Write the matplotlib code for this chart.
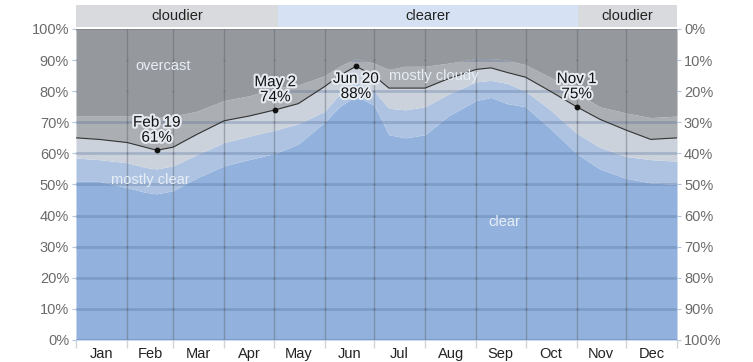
import matplotlib.pyplot as plt
import matplotlib.patheffects as pe
import numpy as np

plt.rcParams['font.family'] = ['Liberation Sans', 'DejaVu Sans']

# day of year for each reading
days = [0, 14, 31, 42, 49, 59, 73, 90, 105, 121, 135, 151, 160, 170, 181, 190,
        200, 212, 226, 243, 252, 262, 273, 288, 304, 318, 334, 349, 365]

# cumulative cloud cover boundaries (percent of time)
clear = [51, 51, 49, 47.5, 47, 48, 52, 56, 58, 60, 63, 70, 75, 78.5, 75.5, 66,
         65, 66, 72, 77, 78, 76, 75, 68, 60, 55, 52, 50.5, 50]
mostly_clear = [58.5, 58, 57, 55.5, 55, 56, 59.5, 63.5, 65.5, 67.5, 69.5, 73.5, 79, 83, 80, 74.5,
                74, 75, 79, 83, 83.5, 82.5, 80, 74, 66.5, 62, 59, 58, 57.5]
partly_cloudy = [65, 64.5, 63.5, 62, 61, 62, 66, 70.5, 72, 74, 76, 81.5, 85, 88, 85, 81,
                 81, 81, 84, 87, 87.5, 86, 84.5, 80, 75, 71, 67.5, 64.5, 65]
mostly_cloudy = [72, 72, 72, 72, 71.5, 72, 73.5, 77, 78.5, 81, 82, 85, 88, 90.5, 89, 87,
                 88, 88, 89, 90.5, 90.5, 90, 88.5, 84.5, 79.5, 75, 73, 71.5, 72]

month_starts = [0, 31, 59, 90, 120, 151, 181, 212, 243, 273, 304, 334, 365]
months = ['Jan', 'Feb', 'Mar', 'Apr', 'May', 'Jun', 'Jul', 'Aug', 'Sep', 'Oct', 'Nov', 'Dec']

# highlighted points on the black line
marks = [('Feb 19', 49, 61), ('May 2', 121, 74), ('Jun 20', 170, 88), ('Nov 1', 304, 75)]

# cloudier / clearer band on top
band_edges = [0, 122.5, 305, 365]
band_labels = ['cloudier', 'clearer', 'cloudier']
band_colors = ['#d9dadd', '#d6e2f3', '#d9dadd']

area_labels = [('overcast', 53, 88), ('mostly clear', 45, 51.5),
               ('mostly cloudy', 217, 85), ('clear', 260, 38)]

fig = plt.figure(figsize=(7.53, 3.62), dpi=100)
ax = fig.add_axes([0.1009, 0.0608, 0.7982, 0.8591])

# stacked areas
ax.fill_between(days, 0, clear, color='#92b2dd', lw=0, zorder=1)
ax.fill_between(days, clear, mostly_clear, color='#adc3e1', lw=0, zorder=1)
ax.fill_between(days, mostly_clear, partly_cloudy, color='#cbd2dc', lw=0, zorder=1)
ax.fill_between(days, partly_cloudy, mostly_cloudy, color='#abaeb3', lw=0, zorder=1)

# horizontal grid sits under the overcast area
for y in range(0, 101, 10):
    ax.axhline(y, color='#4f6a94', alpha=0.3, lw=2, zorder=2)
ax.fill_between(days, mostly_cloudy, 100, color='#95989d', lw=0, zorder=3)
ax.axhline(100, color='#85888d', lw=1.5, zorder=3)

# month boundaries on top
for d in month_starts[1:-1]:
    ax.axvline(d, color='#5f6670', alpha=0.45, lw=1, zorder=4)
gx, gy = np.meshgrid(month_starts[1:-1], range(10, 100, 10))
ax.scatter(gx.ravel(), gy.ravel(), s=2, color='#5f6670', alpha=0.5, lw=0, zorder=4)

ax.plot(days, partly_cloudy, color='#333333', lw=0.8, zorder=5)

halo = [pe.withStroke(linewidth=3, foreground='#e6ebf2')]
for label, d, v in marks:
    ax.scatter([d], [v], s=10, color='#111111', zorder=6)
    if v > 85:
        ax.annotate(f'{label}\n{v}%', (d, v), xytext=(0, -4), textcoords='offset points',
                    ha='center', va='top', fontsize=11, color='#111111',
                    linespacing=1.1, path_effects=halo, zorder=7)
    else:
        ax.annotate(f'{label}\n{v}%', (d, v), xytext=(0, 4), textcoords='offset points',
                    ha='center', va='bottom', fontsize=11, color='#111111',
                    linespacing=1.1, path_effects=halo, zorder=7)

for label, d, v in area_labels:
    ax.text(d, v, label, ha='center', va='center', fontsize=10.5, color='#e8eef6', zorder=6)

for i, label in enumerate(band_labels):
    x0, x1 = band_edges[i], band_edges[i + 1]
    ax.add_patch(plt.Rectangle((x0, 100.5), x1 - x0, 7.3, color=band_colors[i],
                               clip_on=False, lw=0, zorder=1))
    ax.text((x0 + x1) / 2, 104.1, label, ha='center', va='center', fontsize=10.5,
            color='#222222', clip_on=False)

ax.set_xlim(0, 365)
ax.set_ylim(0, 100)
ax.set_yticks(range(0, 101, 10))
ax.set_yticklabels([f'{y}%' for y in range(0, 101, 10)])
ax.set_xticks(month_starts)
ax.set_xticklabels([])
ax.set_xticks([(a + b) / 2 for a, b in zip(month_starts[:-1], month_starts[1:])], minor=True)
ax.set_xticklabels(months, minor=True)
ax.tick_params(axis='x', which='major', length=6, color='#d0d4da', width=1)
ax.tick_params(axis='x', which='minor', length=0, labelsize=10.5, labelcolor='#222222', pad=5)
ax.tick_params(axis='y', length=3, color='#b3c6e0', labelsize=10.5, labelcolor='#6b6b6b', pad=2)
for s in ax.spines.values():
    s.set_visible(False)

# right axis: share of cloudier time
ax2 = ax.twinx()
ax2.set_ylim(100, 0)
ax2.set_yticks(range(0, 101, 10))
ax2.set_yticklabels([f'{y}%' for y in range(0, 101, 10)])
ax2.tick_params(axis='y', length=3, color='#b3c6e0', labelsize=10.5, labelcolor='#6b6b6b', pad=2)
for s in ax2.spines.values():
    s.set_visible(False)

fig.savefig('out.png', dpi=100)
